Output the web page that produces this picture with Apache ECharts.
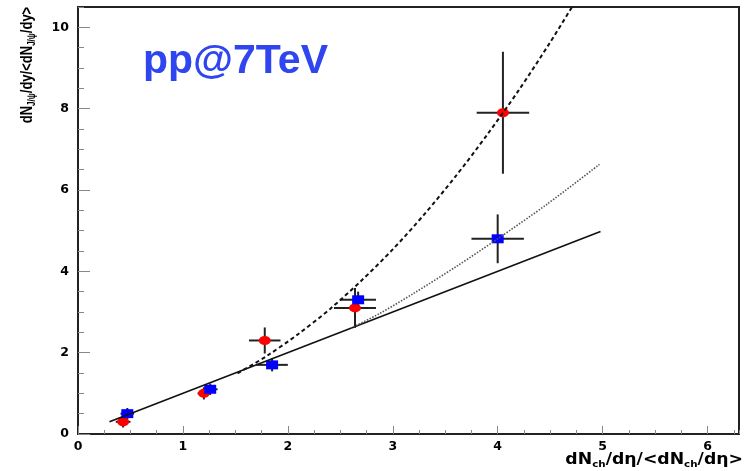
<!DOCTYPE html>
<html>
<head>
<meta charset="utf-8">
<script src="https://cdn.jsdelivr.net/npm/echarts@6/dist/echarts.min.js"></script>
<style>
  html, body { margin: 0; padding: 0; background: #fff; }
  #chart { width: 746px; height: 471px; }
</style>
</head>
<body>
<div id="chart"></div>
<script>
// Multiplicity dependence of J/psi yield, pp at 7 TeV
const redX    = [0.43, 1.20, 1.78, 2.64, 4.05];
const redY    = [0.3, 1.0, 2.3, 3.1, 7.9];
const redXErr = [0.07, 0.06, 0.15, 0.20, 0.25];
const redYErr = [0.14, 0.15, 0.32, 0.49, 1.5];

const blueX    = [0.47, 1.26, 1.85, 2.67, 4.0];
const blueY    = [0.5, 1.1, 1.7, 3.3, 4.8];
const blueXErr = [0.065, 0.07, 0.15, 0.17, 0.25];
const blueYErr = [0.14, 0.14, 0.16, 0.2, 0.6];

// linear reference y = x
const lineX = [0.3, 4.98];
const lineY = [0.3, 4.98];

// dashed curve (steep trend)
const dashX = [1.52, 1.8, 2.1, 2.4, 2.7, 3.0, 3.3, 3.6, 3.9, 4.2, 4.5, 4.72];
const dashY = [1.49, 1.92, 2.46, 3.07, 3.77, 4.54, 5.40, 6.34, 7.36, 8.45, 9.63, 10.55];

// dotted curve (moderate trend)
const dotX = [2.6, 2.88, 3.2, 3.6, 4.0, 4.47, 4.97];
const dotY = [2.6, 2.97, 3.46, 4.11, 4.8, 5.65, 6.63];

const xTicks = [0, 1, 2, 3, 4, 5, 6];
const yTicks = [0, 2, 4, 6, 8, 10];

const zip = (a, b) => a.map((v, i) => [v, b[i]]);
const errData = (x, y, ex, ey) => x.map((v, i) => [v, y[i], ex[i], ey[i]]);

function errorBars(params, api) {
  const x = api.value(0), y = api.value(1), ex = api.value(2), ey = api.value(3);
  const l = api.coord([x - ex, y]), r = api.coord([x + ex, y]);
  const t = api.coord([x, y + ey]), b = api.coord([x, y - ey]);
  const style = { stroke: '#222', lineWidth: 2 };
  return {
    type: 'group',
    children: [
      { type: 'line', shape: { x1: l[0], y1: l[1], x2: r[0], y2: r[1] }, style },
      { type: 'line', shape: { x1: t[0], y1: t[1], x2: b[0], y2: b[1] }, style }
    ]
  };
}

const labelFont = { fontFamily: 'DejaVu Sans', fontWeight: 'bold', fontSize: 12.5, color: '#000' };
const ellipse = 'path://M0,5 A5,5 0 1,1 10,5 A5,5 0 1,1 0,5 Z';

const chart = echarts.init(document.getElementById('chart'), null, { renderer: 'canvas' });
chart.setOption({
  animation: false,
  backgroundColor: '#fff',
  grid: { left: 78, right: 7, top: 7, bottom: 37, show: true, borderColor: '#222', borderWidth: 2, backgroundColor: 'transparent' },
  xAxis: [
    {
      type: 'value', min: 0, max: 6.3, interval: 1,
      axisLine: { show: false },
      axisTick: { inside: true, length: 8, lineStyle: { color: '#888', width: 1 } },
      splitLine: { show: false },
      axisLabel: Object.assign({ margin: 6, showMaxLabel: false,
        formatter: v => xTicks.includes(v) ? String(v) : '' }, labelFont)
    },
    {
      type: 'value', min: 0, max: 6.3, interval: 0.25, position: 'bottom',
      axisLine: { show: false, onZero: false },
      axisTick: { inside: true, length: 4, lineStyle: { color: '#888', width: 1 } },
      splitLine: { show: false }, axisLabel: { show: false }
    }
  ],
  yAxis: [
    {
      type: 'value', min: 0, max: 10.5, interval: 2,
      axisLine: { show: false },
      axisTick: { inside: true, length: 12, lineStyle: { color: '#888', width: 1 } },
      splitLine: { show: false },
      axisLabel: Object.assign({ margin: 9, showMaxLabel: false,
        formatter: v => yTicks.includes(v) ? String(v) : '' }, labelFont)
    },
    {
      type: 'value', min: 0, max: 10.5, interval: 0.5, position: 'left',
      axisLine: { show: false, onZero: false },
      axisTick: { inside: true, length: 6, lineStyle: { color: '#888', width: 1 } },
      splitLine: { show: false }, axisLabel: { show: false }
    }
  ],
  graphic: [
    {
      type: 'text', left: 143, top: 41, z: 10,
      style: { text: 'pp@7TeV', font: 'bold 41px "Liberation Sans"', fill: '#2f45f0' }
    },
    {
      type: 'text', x: 27, y: 65, rotation: Math.PI / 2, scaleY: 1.3, z: 10,
      style: {
        text: '{m|dN}{s|J/ψ}{m|/dy/<dN}{s|J/ψ}{m|/dy>}',
        align: 'center', verticalAlign: 'middle',
        rich: {
          m: { font: 'bold 13px "Liberation Sans"', fill: '#000' },
          s: { font: 'bold 8px "Liberation Sans"', fill: '#000', padding: [8, 0, 0, 0] }
        }
      }
    },
    {
      type: 'text', x: 743, y: 460, scaleX: 1.15, z: 10,
      style: {
        text: '{m|dN}{s|ch}{m|/dη/<dN}{s|ch}{m|/dη>}',
        align: 'right', verticalAlign: 'middle',
        rich: {
          m: { font: 'bold 15px "DejaVu Sans"', fill: '#000' },
          s: { font: 'bold 9px "DejaVu Sans"', fill: '#000', padding: [9, 0, 0, 0] }
        }
      }
    }
  ],
  series: [
    { type: 'custom', renderItem: errorBars, data: errData(redX, redY, redXErr, redYErr), z: 2 },
    { type: 'custom', renderItem: errorBars, data: errData(blueX, blueY, blueXErr, blueYErr), z: 2 },
    { type: 'scatter', data: zip(redX, redY), symbol: ellipse, symbolSize: [12, 9],
      itemStyle: { color: '#ff0000', opacity: 1 }, z: 3 },
    { type: 'scatter', data: zip(blueX, blueY), symbol: 'rect', symbolSize: [12, 9],
      itemStyle: { color: '#0000ff', opacity: 1 }, z: 3 },
    { type: 'line', data: zip(lineX, lineY), symbol: 'none', z: 4,
      lineStyle: { color: '#111', width: 1.6 } },
    { type: 'line', data: zip(dashX, dashY), symbol: 'none', smooth: 0.3, z: 4,
      lineStyle: { color: '#111', width: 2, type: [4, 3] } },
    { type: 'line', data: zip(dotX, dotY), symbol: 'none', smooth: 0.3, z: 4,
      lineStyle: { color: '#555', width: 1.6, type: [1.5, 1.5] } }
  ]
});
</script>
</body>
</html>
